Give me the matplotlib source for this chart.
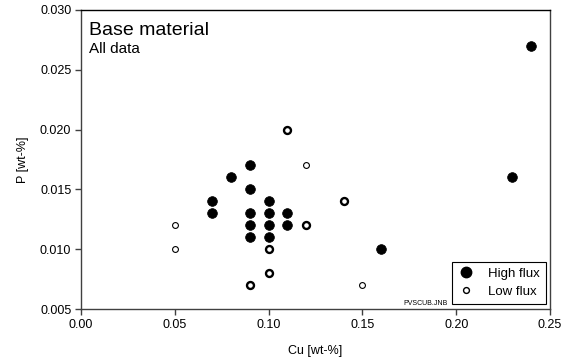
import matplotlib
matplotlib.use('Agg')
import matplotlib.pyplot as plt
from matplotlib.lines import Line2D

plt.rcParams['font.family'] = ['Liberation Sans', 'DejaVu Sans']

# high flux samples (filled)
hi_cu = [0.07, 0.07, 0.08, 0.09, 0.09, 0.09, 0.09, 0.09, 0.10, 0.10, 0.10, 0.10,
         0.11, 0.11, 0.16, 0.23, 0.24]
hi_p = [0.014, 0.013, 0.016, 0.017, 0.015, 0.013, 0.012, 0.011, 0.014, 0.013, 0.012,
        0.011, 0.013, 0.012, 0.010, 0.016, 0.027]

# low flux samples (open), count = number of overlapping samples
lo_cu = [0.05, 0.05, 0.09, 0.10, 0.10, 0.11, 0.12, 0.12, 0.14, 0.15]
lo_p = [0.012, 0.010, 0.007, 0.010, 0.008, 0.020, 0.017, 0.012, 0.014, 0.007]
lo_n = [1, 1, 2, 2, 2, 2, 1, 2, 2, 1]

xticks = [0.00, 0.05, 0.10, 0.15, 0.20, 0.25]
yticks = [0.005, 0.010, 0.015, 0.020, 0.025, 0.030]

fig = plt.figure(figsize=(5.71, 3.64), dpi=100)
ax = fig.add_axes([81/571, 1 - 309/364, 469/571, 299/364])

for x, y in zip(hi_cu, hi_p):
    ax.plot(x, y, 'o', ms=7.0, mfc='black', mec='black', mew=0.5, zorder=3)
for x, y, n in zip(lo_cu, lo_p, lo_n):
    if n > 1:
        ax.plot(x, y, 'o', ms=5.0, mfc='white', mec='black', mew=1.7, zorder=3)
    else:
        ax.plot(x, y, 'o', ms=4.2, mfc='white', mec='black', mew=0.8, zorder=3)

ax.set_xlim(0, 0.25)
ax.set_ylim(0.005, 0.030)
ax.set_xticks(xticks)
ax.set_yticks(yticks)
ax.set_xticklabels(['%.2f' % v for v in xticks], fontsize=9)
ax.set_yticklabels(['%.3f' % v for v in yticks], fontsize=9)
ax.tick_params(direction='out', length=4, width=1, color='#404040', pad=3)
for s in ax.spines.values():
    s.set_color('#404040')
    s.set_linewidth(1)
ax.spines['top'].set_color('black')

ax.set_xlabel('Cu [wt-%]', fontsize=9, labelpad=10)
ax.set_ylabel('P [wt-%]', fontsize=9, labelpad=8)

ax.text(0.017, 0.916, 'Base material', transform=ax.transAxes, fontsize=14)
ax.text(0.017, 0.856, 'All data', transform=ax.transAxes, fontsize=11)
ax.text(0.688, 0.013, 'PVSCUB.JNB', transform=ax.transAxes, fontsize=5)

handles = [Line2D([], [], ls='none', marker='o', ms=7.5, mfc='black', mec='black'),
           Line2D([], [], ls='none', marker='o', ms=4.2, mfc='white', mec='black', mew=1.0)]
leg = ax.legend(handles, ['High flux', 'Low flux'], loc='lower right', fontsize=9.5,
                fancybox=False, framealpha=1, edgecolor='black', borderpad=0.45,
                handletextpad=1.0, labelspacing=0.45, handlelength=1.3,
                borderaxespad=0, bbox_to_anchor=(0.991, 0.017))
leg.get_frame().set_linewidth(0.8)

fig.savefig('out.png', dpi=100)
